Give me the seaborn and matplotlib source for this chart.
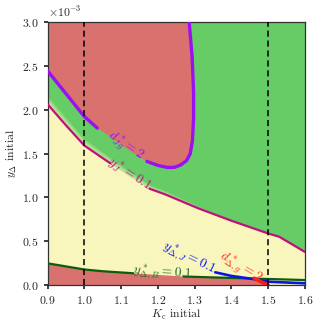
import numpy as np
import pandas as pd
import matplotlib
matplotlib.use("Agg")
import matplotlib.pyplot as plt
import seaborn as sns

# ---------------- data ----------------
# x: K_c initial, y: y_Delta initial (units of 1e-3)
purple_x = [0.90, 0.95, 1.00, 1.035, 1.07, 1.10, 1.135, 1.17, 1.20, 1.225, 1.245,
            1.262, 1.278, 1.288, 1.294, 1.297, 1.297, 1.293, 1.288, 1.285]
purple_y = [2.44, 2.18, 1.92, 1.79, 1.69, 1.60, 1.50, 1.41, 1.365, 1.342, 1.343,
            1.37, 1.42, 1.50, 1.65, 1.90, 2.20, 2.60, 2.85, 3.00]
purple_gap = (1.035, 1.17)

magenta_x = [0.90, 0.95, 1.00, 1.07, 1.12, 1.177, 1.22, 1.31, 1.40, 1.50, 1.53, 1.60]
magenta_y = [2.06, 1.82, 1.59, 1.39, 1.25, 1.10, 1.035, 0.876, 0.735, 0.59, 0.553, 0.38]
magenta_gap = (1.07, 1.177)

dgreen_x = [0.90, 0.95, 1.00, 1.05, 1.133, 1.20, 1.27, 1.35, 1.45, 1.50, 1.60]
dgreen_y = [0.25, 0.215, 0.18, 0.16, 0.137, 0.118, 0.100, 0.090, 0.078, 0.072, 0.060]
dgreen_gap = (1.133, 1.27)

blue_x = [1.356, 1.401, 1.465, 1.501, 1.55, 1.60]
blue_y = [0.148, 0.106, 0.068, 0.041, 0.032, 0.023]

red_x = [1.462, 1.50]
red_y = [0.080, 0.000]

vlines_x = [1.0, 1.5]

labels = [r"$d^*_{Jg}=2$", r"$y^*_J=0.1$", r"$y^*_{\Delta,B}=0.1$",
          r"$y^*_{\Delta,J}=0.1$", r"$d^*_{\Delta,g}=2$"]
label_x = [1.11, 1.122, 1.212, 1.285, 1.424]
label_y = [1.585, 1.27, 0.14, 0.31, 0.20]
label_rot = [-34, -33, -4, -26, -31]
label_col = ["#9b10f0", "#c0107a", "#1f6b1f", "#0a14e6", "#ff2a1a"]

# ---------------- style ----------------
sns.set_theme(style="ticks")
plt.rcParams.update({
    "font.family": "serif",
    "font.serif": ["cmr10"],
    "mathtext.fontset": "cm",
    "axes.formatter.use_mathtext": True,
    "axes.unicode_minus": False,
    "xtick.labelsize": 8.5,
    "ytick.labelsize": 8.5,
    "axes.labelsize": 8.5,
    "axes.edgecolor": "#333333",
    "axes.linewidth": 0.9,
    "xtick.major.size": 3,
    "ytick.major.size": 3,
})

RED = "#d9716f"
GREEN = "#66cc66"
YELLOW = "#f8f6bd"

fig = plt.figure(figsize=(3.30, 3.29), dpi=100)
ax = fig.add_axes([0.1445, 0.1328, 0.7795, 0.801])
ax.set_facecolor(GREEN)

s = 1e-3
mx = np.array(magenta_x)
my = np.array(magenta_y) * s

# yellow region below magenta
ax.fill_between(mx, 0, my, color=YELLOW, lw=0, zorder=1)
# soft transition above magenta (fading out toward the right)
taper = np.clip((1.45 - mx) / 0.55, 0, 1)
for k in range(1, 7):
    ax.fill_between(mx, my, my + k * 0.016 * s * taper, color=YELLOW,
                    alpha=0.17, lw=0, zorder=1)

# red upper-left region bounded by purple curve
px = list(purple_x) + [0.90]
py = [v * s for v in purple_y] + [3.0 * s]
ax.fill(px, py, color=RED, lw=0, zorder=2)

# red lower region below dark-green line, left of red line
gx = [x for x in dgreen_x if x <= red_x[0]]
gy = [dgreen_y[i] * s for i, x in enumerate(dgreen_x) if x <= red_x[0]]
bx = [0.90] + gx + [red_x[0], red_x[1], 0.90]
by = [0.0] + gy + [red_y[0] * s, red_y[1] * s, 0.0]
ax.fill(bx, by, color=RED, lw=0, zorder=2)


def draw_curve(xs, ys, gap, color, lw):
    df = pd.DataFrame({"x": xs, "y": np.array(ys) * s})
    if gap is None:
        parts = [df]
    else:
        parts = [df[df.x <= gap[0]], df[df.x >= gap[1]]]
    for p in parts:
        if len(p) > 1:
            sns.lineplot(data=p, x="x", y="y", sort=False, estimator=None,
                         color=color, lw=lw, ax=ax, zorder=4, legend=False)


draw_curve(purple_x, purple_y, purple_gap, "#9b10f0", 2.4)
draw_curve(magenta_x, magenta_y, magenta_gap, "#c0107a", 1.6)
draw_curve(dgreen_x, dgreen_y, dgreen_gap, "#0b5e0b", 1.6)
draw_curve(blue_x, blue_y, None, "#0a14e6", 1.9)
draw_curve(red_x, red_y, None, "#ff1a0a", 2.6)

for xv in vlines_x:
    ax.axvline(xv, color="black", lw=1.1, ls=(0, (4, 2.5)), zorder=5)

for t, x, y, r, c in zip(labels, label_x, label_y, label_rot, label_col):
    ax.text(x, y * s, t, rotation=r, color=c, fontsize=9.6, ha="center",
            va="center", rotation_mode="anchor", zorder=6)

ax.set_xlim(0.9, 1.6)
ax.set_ylim(0, 3.0e-3)
ax.set_xticks([0.9, 1.0, 1.1, 1.2, 1.3, 1.4, 1.5, 1.6])
ax.set_yticks(np.arange(0, 3.01e-3, 0.5e-3))
ax.set_xlabel(r"$K_{\rm c}$ initial", labelpad=1)
ax.set_ylabel(r"$y_{\Delta}$ initial", labelpad=2)
ax.ticklabel_format(axis="y", style="sci", scilimits=(-3, -3), useMathText=True)
ax.yaxis.get_offset_text().set_fontsize(8.5)

fig.savefig("out.png", dpi=100)
